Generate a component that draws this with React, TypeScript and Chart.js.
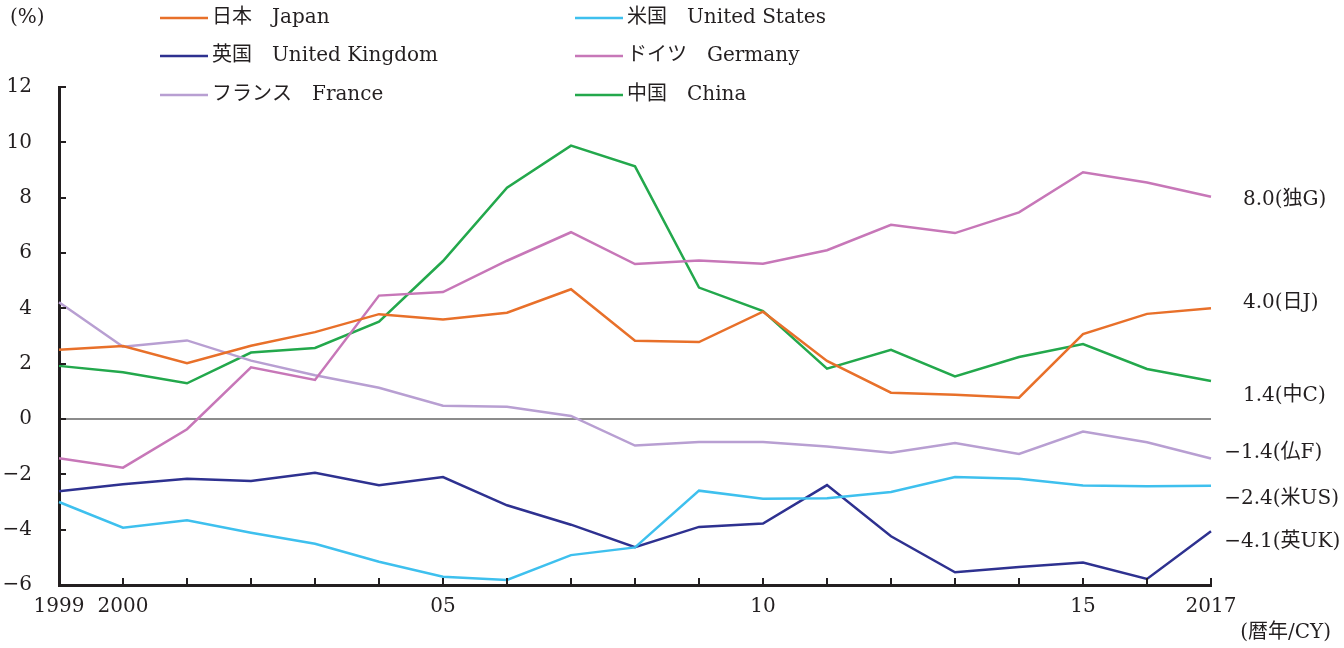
import { useEffect, useRef } from "react";
import { Chart, registerables } from "chart.js";

Chart.register(...registerables);

const years = ["1999","2000","2001","2002","2003","2004","2005","2006","2007","2008","2009","2010","2011","2012","2013","2014","2015","2016","2017"];
const xTickLabels = ["1999","2000","","","","","05","","","","","10","","","","","15","","2017"];
const yTicks = [-6, -4, -2, 0, 2, 4, 6, 8, 10, 12];

const japan = [2.5, 2.64, 2.02, 2.65, 3.14, 3.79, 3.6, 3.84, 4.69, 2.83, 2.78, 3.88, 2.1, 0.95, 0.88, 0.77, 3.07, 3.8, 4.0];
const unitedStates = [-3.0, -3.93, -3.66, -4.11, -4.51, -5.16, -5.7, -5.82, -4.92, -4.64, -2.59, -2.88, -2.86, -2.64, -2.1, -2.16, -2.4, -2.43, -2.41];
const unitedKingdom = [-2.61, -2.36, -2.16, -2.24, -1.94, -2.39, -2.1, -3.12, -3.82, -4.63, -3.9, -3.78, -2.39, -4.24, -5.54, -5.35, -5.19, -5.78, -4.06];
const germany = [-1.42, -1.76, -0.37, 1.87, 1.41, 4.46, 4.59, 5.72, 6.75, 5.6, 5.73, 5.61, 6.1, 7.02, 6.72, 7.47, 8.92, 8.55, 8.03];
const france = [4.22, 2.61, 2.84, 2.11, 1.58, 1.13, 0.48, 0.44, 0.11, -0.96, -0.83, -0.83, -0.99, -1.22, -0.87, -1.26, -0.45, -0.84, -1.43];
const china = [1.92, 1.69, 1.29, 2.4, 2.57, 3.52, 5.71, 8.36, 9.88, 9.13, 4.75, 3.9, 1.82, 2.5, 1.54, 2.24, 2.71, 1.81, 1.37];

const seriesNames = ["日本\u3000Japan", "米国\u3000United States", "英国\u3000United Kingdom", "ドイツ\u3000Germany", "フランス\u3000France", "中国\u3000China"];
const seriesColors = ["#e8702a", "#3ec0ee", "#2e3190", "#c777b8", "#b89fd2", "#23a84c"];

const endLabels = ["8.0(独G)", "4.0(日J)", "1.4(中C)", "−1.4(仏F)", "−2.4(米US)", "−4.1(英UK)"];
const endLabelAnchors = [7.92, 4.19, 0.83, -1.22, -2.89, -4.43];

const FAMILY = '"DejaVu Serif", "Noto Sans CJK JP", serif';
const FONT = '20px ' + FAMILY;
const INK = "#231f20";

const overlayPlugin = {
  id: "overlay",
  afterDraw(chart: any) {
    const { ctx, chartArea, scales } = chart;
    const x = scales.x;
    const y = scales.y;
    ctx.save();
    // inward tick marks
    ctx.strokeStyle = INK;
    ctx.lineWidth = 2;
    ctx.beginPath();
    years.forEach((_, i) => {
      const px = Math.round(x.getPixelForValue(i));
      ctx.moveTo(px, chartArea.bottom);
      ctx.lineTo(px, chartArea.bottom - 7);
    });
    yTicks.forEach((v) => {
      const py = Math.round(y.getPixelForValue(v));
      ctx.moveTo(chartArea.left, py);
      ctx.lineTo(chartArea.left + 7, py);
    });
    ctx.stroke();

    ctx.font = FONT;
    ctx.fillStyle = INK;
    ctx.textBaseline = "middle";

    // legend: two columns, three rows
    const order = [0, 2, 4, 1, 3, 5];
    order.forEach((di, k) => {
      const col = Math.floor(k / 3);
      const row = k % 3;
      const lx = col === 0 ? 160 : 575;
      const ly = [18, 56, 95][row];
      const ds = chart.data.datasets[di];
      ctx.strokeStyle = ds.borderColor;
      ctx.lineWidth = 2.5;
      ctx.beginPath();
      ctx.moveTo(lx, ly);
      ctx.lineTo(lx + 48, ly);
      ctx.stroke();
      ctx.textAlign = "left";
      ctx.fillText(ds.label, lx + 52, ly);
    });

    // axis titles
    ctx.textAlign = "left";
    ctx.fillText("(%)", 10, 18);
    ctx.textAlign = "right";
    ctx.fillText("(暦年/CY)", 1331, 633);

    // end labels
    ctx.textAlign = "left";
    endLabels.forEach((t, i) => {
      const py = y.getPixelForValue(endLabelAnchors[i]);
      let lx = chartArea.right + 32;
      if (t.startsWith("−")) lx -= ctx.measureText("−").width + 2;
      ctx.fillText(t, lx, py);
    });
    ctx.restore();
  },
};

export default function App() {
  const ref = useRef<HTMLCanvasElement | null>(null);
  useEffect(() => {
    if (!ref.current) return;
    const data = [japan, unitedStates, unitedKingdom, germany, france, china];
    const chart = new Chart(ref.current, {
      type: "line",
      data: {
        labels: years,
        datasets: data.map((d, i) => ({
          label: seriesNames[i],
          data: d,
          borderColor: seriesColors[i],
          backgroundColor: seriesColors[i],
          borderWidth: 2.5,
          pointRadius: 0,
          tension: 0,
          fill: false,
        })),
      },
      options: {
        responsive: false,
        animation: false,
        layout: { padding: { top: 87, right: 133, left: 0, bottom: 0 } },
        plugins: { legend: { display: false }, tooltip: { enabled: false } },
        scales: {
          x: {
            type: "category",
            offset: false,
            afterFit: (s: any) => { s.height = 63; },
            grid: { display: true, color: "transparent", drawTicks: false },
            border: { display: true, color: INK, width: 3 },
            ticks: {
              autoSkip: false,
              maxRotation: 0,
              padding: 10,
              color: INK,
              font: { family: FAMILY, size: 20 },
              callback: (_v: any, i: number) => xTickLabels[i],
            },
          },
          y: {
            min: -6,
            max: 12,
            afterFit: (s: any) => { s.width = 59; },
            grid: {
              drawTicks: false,
              lineWidth: 2,
              color: (c: any) => (c.tick && c.tick.value === 0 ? "#8c8c8c" : "transparent"),
            },
            border: { display: true, color: INK, width: 3 },
            ticks: {
              stepSize: 2,
              padding: 27,
              color: INK,
              font: { family: FAMILY, size: 20 },
              callback: (v: any) => String(v).replace("-", "−"),
            },
          },
        },
      },
      plugins: [overlayPlugin],
    });
    return () => chart.destroy();
  }, []);
  return (
    <div style={{ position: "fixed", left: 0, top: 0, width: 1344, height: 648, background: "#fff" }}>
      <canvas ref={ref} width={1344} height={648} />
    </div>
  );
}
